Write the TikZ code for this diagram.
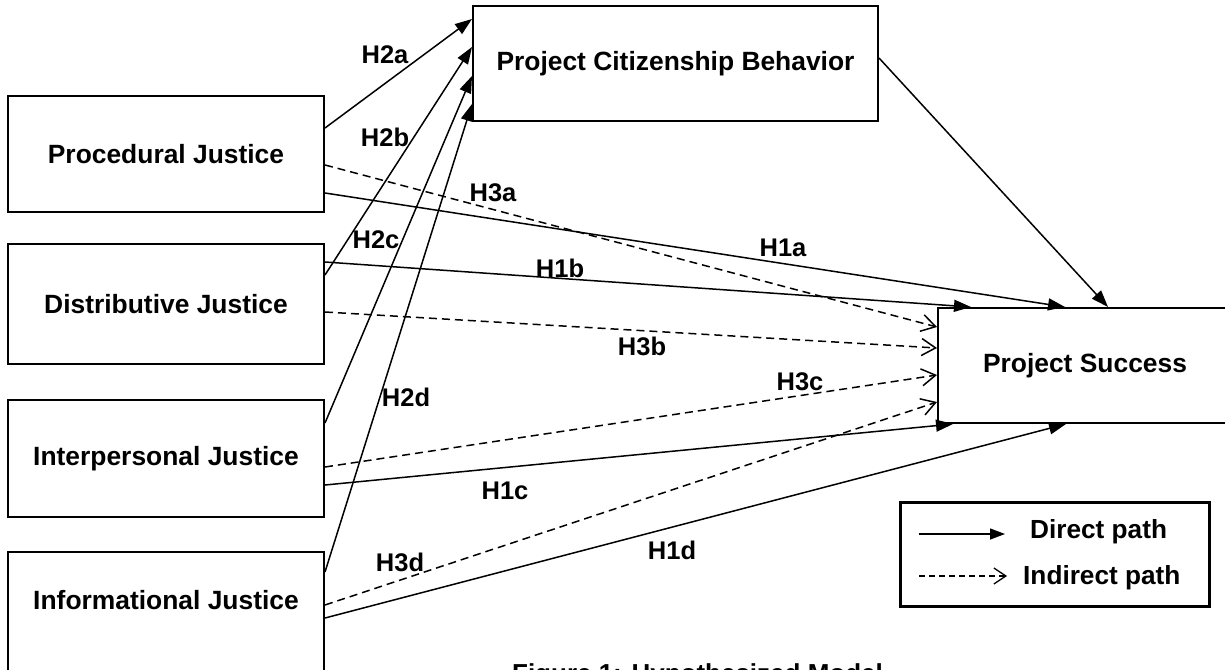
\documentclass[tikz,border=0pt]{standalone}
\usepackage{fontspec}
\setmainfont{Liberation Sans}
\usetikzlibrary{arrows.meta}
\begin{document}
\begin{tikzpicture}[x=1pt,y=-1pt,
  jbox/.style={draw, line width=2pt, inner sep=0pt, minimum width=316pt,
    font=\fontsize{26.4}{30}\selectfont\bfseries},
  hlab/.style={inner sep=0pt, font=\fontsize{25.5}{30}\selectfont\bfseries},
  legtxt/.style={inner sep=0pt, anchor=west, font=\fontsize{26.2}{30}\selectfont\bfseries},
  direct/.style={line width=1.5pt, -{Triangle[length=17pt,width=12pt]}},
  indirect/.style={line width=1.5pt, dash pattern=on 8pt off 5pt,
    -{Straight Barb[length=14pt,width=17pt,line width=1.5pt]}},
]
\useasboundingbox (0,0) rectangle (1225,669);
\clip (0,0) rectangle (1225,669);

% boxes
\node[jbox, minimum height=116pt] (proc) at (166,154) {Procedural Justice};
\node[jbox, minimum height=120pt] (dist) at (166,304) {Distributive Justice};
\node[jbox, minimum height=117pt] (inter) at (166,458.5) {Interpersonal Justice};
\node[jbox, minimum height=120pt] (inf) at (166,612) {};
\node[hlab, font=\fontsize{26.4}{30}\selectfont\bfseries] (inftext) at (166,600) {Informational Justice};
\node[jbox, minimum width=405pt, minimum height=115pt] (pcb) at (675.5,63.5) {Project Citizenship Behavior};
\node[jbox, minimum width=294pt, minimum height=115pt] (ps) at (1085,365.5) {Project Success};

% H2 paths to PCB
\draw[direct] (proc.east |- 0,128) -- (pcb.west |- 0,19);
\draw[direct] (dist.east |- 0,275) -- (pcb.west |- 0,47);
\draw[direct] (inter.east |- 0,423) -- (pcb.west |- 0,76);
\draw[direct] (inf.east |- 0,572) -- (pcb.west |- 0,104);

% H1 paths to PS
\draw[direct] (proc.east |- 0,193) -- (ps.north -| 1065,0);
\draw[direct] (dist.east |- 0,262) -- (ps.north -| 971,0);
\draw[direct] (inter.east |- 0,485) -- (ps.south -| 953,0);
\draw[direct] (inf.east |- 0,618) -- (ps.south -| 1066,0);
\draw[direct] (pcb.east |- 0,58) -- (ps.north -| 1108,0);

% H3 indirect paths
\draw[indirect] (proc.east |- 0,165) -- (ps.west |- 0,327);
\draw[indirect] (dist.east |- 0,312) -- (ps.west |- 0,348);
\draw[indirect] (inter.east |- 0,467) -- (ps.west |- 0,375);
\draw[indirect] (inf.east |- 0,605) -- (ps.west |- 0,402);

% labels
\node[hlab] (lH2a) at (385,55) {H2a};
\node[hlab] (lH2b) at (385,137) {H2b};
\node[hlab] (lH3a) at (493,193) {H3a};
\node[hlab] (lH2c) at (376,240) {H2c};
\node[hlab] (lH1b) at (560,268) {H1b};
\node[hlab] (lH3b) at (642,346) {H3b};
\node[hlab] (lH2d) at (406,397) {H2d};
\node[hlab] (lH1a) at (783,248) {H1a};
\node[hlab] (lH3c) at (800,382) {H3c};
\node[hlab] (lH1c) at (505,491) {H1c};
\node[hlab] (lH3d) at (400,562) {H3d};
\node[hlab] (lH1d) at (672,550) {H1d};

% legend
\node[draw, line width=3pt, minimum width=309pt, minimum height=104pt, inner sep=0pt] (legend) at (1054.5,554) {};
\coordinate (d1) at (919,534);
\coordinate (d2) at (1005,534);
\coordinate (i1) at (919,576);
\coordinate (i2) at (1007,576);
\draw[line width=1.3pt, -{Triangle[length=15pt,width=11pt]}] (d1) -- (d2);
\draw[line width=1.3pt, dash pattern=on 6pt off 4pt, -{Straight Barb[length=12pt,width=16pt,line width=1.3pt]}] (i1) -- (i2);
\node[legtxt] (dtxt) at (1030,532) {Direct path};
\node[legtxt] (itxt) at (1023,578) {Indirect path};

% caption (cut by the lower edge)
\node[inner sep=0pt, anchor=base, font=\fontsize{26}{30}\selectfont\bfseries] (caption) at (697.5,682) {Figure 1: Hypothesized Model};
\end{tikzpicture}
\end{document}
